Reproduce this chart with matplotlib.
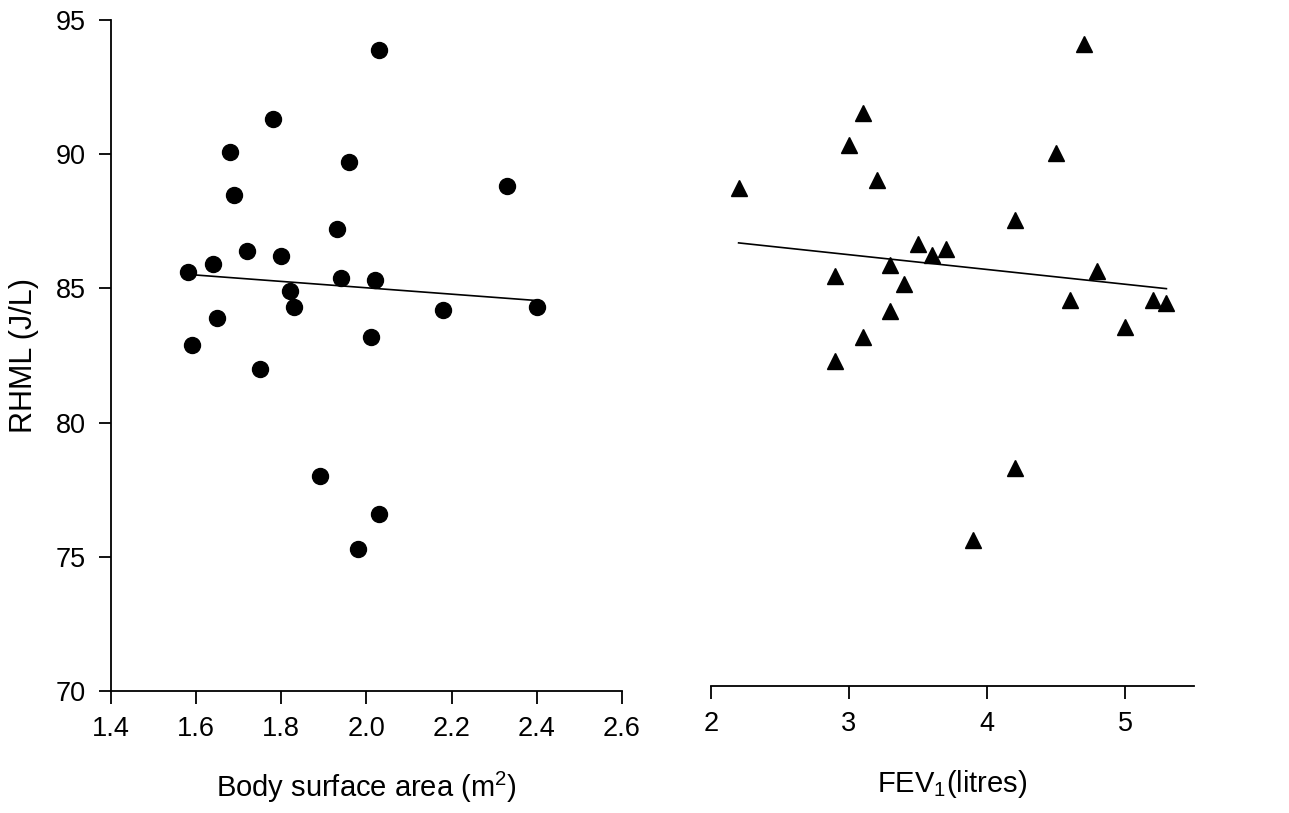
import numpy as np
import matplotlib
matplotlib.use('Agg')
import matplotlib.pyplot as plt

plt.rcParams['font.family'] = ['Liberation Sans', 'DejaVu Sans']
plt.rcParams['mathtext.fontset'] = 'custom'
plt.rcParams['mathtext.rm'] = 'Liberation Sans'
plt.rcParams['mathtext.it'] = 'Liberation Sans'

# body surface area (m2) vs RHML (J/L)
bsa = [2.03, 1.78, 1.68, 1.96, 2.33, 1.69, 1.93, 1.72, 1.80, 1.64, 1.58, 1.94,
       2.02, 1.82, 1.83, 2.18, 2.40, 1.65, 2.01, 1.59, 1.75, 1.89, 2.03, 1.98]
rhml_bsa = [93.9, 91.3, 90.1, 89.7, 88.8, 88.5, 87.2, 86.4, 86.2, 85.9, 85.6, 85.4,
            85.3, 84.9, 84.3, 84.2, 84.3, 83.9, 83.2, 82.9, 82.0, 78.0, 76.6, 75.3]

# FEV1 (litres) vs RHML (J/L)
fev1 = [4.7, 3.1, 3.0, 4.5, 3.2, 2.2, 4.2, 3.5, 3.7, 3.6, 3.3, 4.8,
        2.9, 3.4, 4.6, 5.2, 5.3, 3.3, 5.0, 3.1, 2.9, 4.2, 3.9]
rhml_fev = [94.1, 91.5, 90.3, 90.0, 89.0, 88.7, 87.5, 86.6, 86.4, 86.2, 85.8, 85.6,
            85.4, 85.1, 84.5, 84.5, 84.4, 84.1, 83.5, 83.1, 82.2, 78.2, 75.5]

fig = plt.figure(figsize=(12.89, 8.13), dpi=100)
ax1 = fig.add_axes([0.0861, 0.150, 0.3964, 0.8253])
ax2 = fig.add_axes([0.5516, 0.156, 0.3747, 0.8192])

# left panel
ax1.plot(bsa, rhml_bsa, 'o', color='black', markersize=11.5)
k, b = np.polyfit(bsa, rhml_bsa, 1)
xs = np.array([min(bsa), max(bsa)])
ax1.plot(xs, k * xs + b, color='black', lw=1.2)
ax1.set_xlim(1.4, 2.6)
ax1.set_ylim(70, 95)
ax1.set_xticks([1.4, 1.6, 1.8, 2.0, 2.2, 2.4, 2.6])
ax1.set_xticklabels(['1.4', '1.6', '1.8', '2.0', '2.2', '2.4', '2.6'])
ax1.set_yticks([70, 75, 80, 85, 90, 95])
ax1.spines['top'].set_visible(False)
ax1.spines['right'].set_visible(False)
ax1.set_xlabel('Body surface area (m$^2$)', fontsize=21, labelpad=20)
ax1.set_ylabel('RHML (J/L)', fontsize=22, labelpad=12)

# right panel
ax2.plot(fev1, rhml_fev, '^', color='black', markersize=11.5)
k2, b2 = np.polyfit(fev1, rhml_fev, 1)
xs2 = np.array([min(fev1), max(fev1)])
ax2.plot(xs2, k2 * xs2 + b2, color='black', lw=1.2)
ax2.set_xlim(2, 5.5)
ax2.set_ylim(70, 95)
ax2.set_xticks([2, 3, 4, 5])
ax2.set_yticks([])
for s in ['top', 'right', 'left']:
    ax2.spines[s].set_visible(False)
ax2.set_xlabel('FEV$_1$(litres)', fontsize=21, labelpad=22)

for ax in (ax1, ax2):
    ax.tick_params(direction='out', length=9, width=1.3, labelsize=19.5, pad=9)
    for s in ax.spines.values():
        s.set_linewidth(1.3)

fig.savefig('out.png', dpi=100)
